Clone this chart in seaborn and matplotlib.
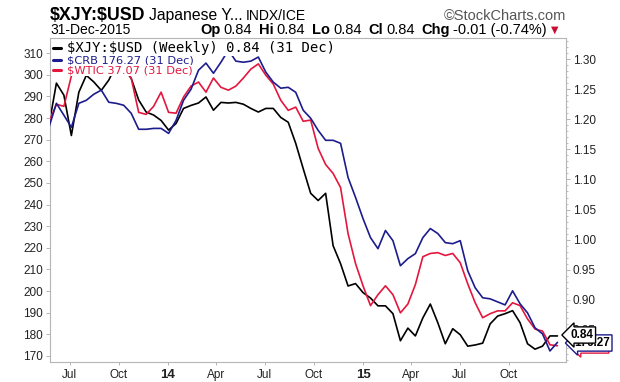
import matplotlib
matplotlib.use('Agg')
import matplotlib.pyplot as plt
from matplotlib.lines import Line2D
from matplotlib.ticker import MultipleLocator, FixedLocator
from matplotlib import font_manager
import seaborn as sns
import pandas as pd

# ---------------- data ----------------
last_date = '2015-12-31'
step = '14D'

xjy = [1.190, 1.260, 1.240, 1.173, 1.245, 1.273, 1.262, 1.248, 1.265, 1.290,
       1.285, 1.268, 1.232, 1.212, 1.207, 1.198, 1.182, 1.193, 1.218, 1.223,
       1.227, 1.237, 1.215, 1.228, 1.227, 1.228, 1.225, 1.218, 1.212, 1.218,
       1.218, 1.203, 1.195, 1.160, 1.118, 1.077, 1.065, 1.077, 0.990, 0.960,
       0.923, 0.927, 0.912, 0.903, 0.890, 0.890, 0.877, 0.832, 0.853, 0.840,
       0.870, 0.893, 0.862, 0.827, 0.852, 0.842, 0.823, 0.825, 0.828, 0.860,
       0.873, 0.877, 0.882, 0.862, 0.827, 0.818, 0.823, 0.840, 0.840]

crb = [275.7, 286.8, 281.3, 275.7, 286.8, 288.2, 291.0, 292.9, 287.3, 286.8,
       285.9, 282.2, 274.8, 274.8, 275.2, 275.2, 272.9, 278.9, 288.2, 293.3,
       302.1, 305.4, 300.7, 305.8, 311.4, 306.3, 305.8, 306.3, 308.2, 301.2,
       296.6, 293.8, 294.2, 291.9, 283.6, 279.9, 274.3, 269.7, 269.7, 268.3,
       252.5, 243.3, 233.5, 224.7, 219.6, 228.0, 223.3, 211.7, 215.0, 217.3,
       224.7, 228.9, 226.6, 222.4, 221.9, 223.3, 209.4, 201.5, 196.9, 196.4,
       195.0, 193.6, 200.1, 194.1, 189.9, 183.0, 180.2, 172.3, 176.27]

wtic = [92.4, 96.8, 96.3, 103.8, 106.5, 108.2, 109.0, 109.0, 107.7, 107.2,
        105.8, 103.3, 94.8, 94.3, 96.3, 99.8, 94.8, 94.6, 98.6, 101.3,
        102.3, 99.8, 103.3, 101.0, 100.3, 101.3, 103.3, 105.5, 106.8, 104.0,
        101.8, 97.8, 95.3, 96.1, 92.6, 92.9, 85.9, 81.9, 79.7, 76.2,
        64.8, 57.4, 51.9, 47.0, 49.7, 51.9, 49.7, 45.2, 47.4, 52.2,
        59.1, 59.9, 60.1, 59.4, 59.9, 57.6, 52.4, 47.7, 44.0, 45.0,
        45.7, 45.7, 47.7, 47.0, 43.7, 41.2, 40.7, 37.3, 37.07]

month_ticks = ['2013-07-01', '2013-10-01', '2014-01-01', '2014-04-01', '2014-07-01',
               '2014-10-01', '2015-01-01', '2015-04-01', '2015-07-01', '2015-10-01']
month_labels = ['Jul', 'Oct', '14', 'Apr', 'Jul', 'Oct', '15', 'Apr', 'Jul', 'Oct']
year_labels = ['14', '15']
crb_ticks = [170, 180, 190, 200, 210, 220, 230, 240, 250, 260, 270, 280, 290, 300, 310]
xjy_ticks = [0.85, 0.90, 0.95, 1.00, 1.05, 1.10, 1.15, 1.20, 1.25, 1.30]

legend_labels = [r'\$XJY:\$USD (Weekly) 0.84 (31 Dec)',
                 r'\$CRB 176.27 (31 Dec)',
                 r'\$WTIC 37.07 (31 Dec)']
box_labels = ['0.84', '176.27', '37.07']

# ---------------- style ----------------
sns.set_theme(style='white')
names = {f.name for f in font_manager.fontManager.ttflist}
NARROW = 'Liberation Sans Narrow' if 'Liberation Sans Narrow' in names else 'Liberation Sans'
plt.rcParams['font.family'] = ['Liberation Sans', 'DejaVu Sans']

BLACK = '#000000'
BLUE = '#1c1c8c'
RED = '#e3173e'
GRID = '#b5b5b5'
TXT = '#222222'

dates = pd.date_range(end=last_date, periods=len(xjy), freq=step)
df = pd.DataFrame({'date': dates, 'xjy': xjy, 'crb': crb, 'wtic': wtic})

W, H = 620, 382
fig = plt.figure(figsize=(W / 100, H / 100), dpi=100)
fig.patch.set_facecolor('white')
L, R, T, B = 50, 566, 38, 362
ax = fig.add_axes([L / W, 1 - B / H, (R - L) / W, (B - T) / H])
axW = ax.twinx()
axC = ax.twinx()

LW = 1.2
sns.lineplot(data=df, x='date', y='xjy', ax=ax, color=BLACK, lw=LW)
sns.lineplot(data=df, x='date', y='wtic', ax=axW, color=RED, lw=LW)
sns.lineplot(data=df, x='date', y='crb', ax=axC, color=BLUE, lw=LW)

ax.set_xlim(pd.Timestamp('2013-05-25'), pd.Timestamp('2016-01-16'))
ax.set_ylim(0.7967, 1.335)
axW.set_ylim(33.05, 113.2)
axC.set_ylim(167.2, 317.0)
for a in (ax, axW, axC):
    a.set_xlabel('')
    a.set_ylabel('')

# right axis (XJY)
ax.yaxis.tick_right()
ax.set_yticks(xjy_ticks)
ax.set_yticklabels([f'{v:.2f}' for v in xjy_ticks])
ax.yaxis.set_minor_locator(MultipleLocator(0.01))
ax.tick_params(axis='y', which='major', right=True, left=False, labelright=True,
               labelleft=False, direction='out', length=3, width=0.7, color=GRID,
               labelsize=8.5, labelcolor=TXT, pad=2)
ax.tick_params(axis='y', which='minor', right=True, left=False, direction='out',
               length=1.5, width=0.6, color=GRID)

# left axis (CRB)
axC.yaxis.tick_left()
axC.set_yticks(crb_ticks)
axC.set_yticklabels([str(v) for v in crb_ticks])
axC.tick_params(axis='y', left=True, right=False, labelleft=True, labelright=False,
                direction='out', length=3, width=0.7, color=GRID, labelsize=8.5,
                labelcolor=TXT, pad=2)
axW.set_yticks([])

# x axis
ax.xaxis.set_major_locator(FixedLocator([matplotlib.dates.date2num(pd.Timestamp(d)) for d in month_ticks]))
ax.set_xticklabels(month_labels)
ax.tick_params(axis='x', bottom=True, direction='out', length=2, width=0.7, color=GRID,
               labelsize=8.5, labelcolor=TXT, pad=3)
for t in ax.get_xticklabels():
    if t.get_text() in year_labels:
        t.set_fontweight('bold')
        t.set_fontsize(9.5)

for s in ax.spines.values():
    s.set_color(GRID)
    s.set_linewidth(0.8)
for a in (axW, axC):
    for s in a.spines.values():
        s.set_visible(False)

# legend
handles = [Line2D([], [], color=c, lw=2.2) for c in (BLACK, BLUE, RED)]
leg = axC.legend(handles, legend_labels, loc='upper left', bbox_to_anchor=(0.0, 1.0),
                 frameon=False, prop={'family': 'DejaVu Sans', 'size': 8.2},
                 handlelength=0.7, handletextpad=0.45, labelspacing=0.02,
                 borderaxespad=0.15, borderpad=0.15)
for t, c in zip(leg.get_texts(), (BLACK, BLUE, RED)):
    t.set_color(c)
    t.set_bbox(dict(facecolor='white', edgecolor='none', pad=0.3))
t0 = leg.get_texts()[0]
t0.set_fontfamily('DejaVu Sans Mono')
t0.set_fontsize(10)


def px(x, y):
    return x / W, 1 - y / H


# value boxes on the right axis
boxes = [(box_labels[2], RED, 592, 345), (box_labels[1], BLUE, 592, 343), (box_labels[0], BLACK, 582, 335)]
for txt, ec, x, y in boxes:
    fig.text(*px(x, y), txt, ha='center', va='center', fontsize=8.5, fontweight='bold',
             family=NARROW, color='black',
             bbox=dict(boxstyle='larrow,pad=0.18', fc='white', ec=ec, lw=1.0))

# header
fig.text(*px(50, 20), r'\$XJY:\$USD', fontsize=12.8, fontweight='bold', family=NARROW,
         color='black', va='baseline', ha='left')
fig.text(*px(149, 20), 'Japanese Y...', fontsize=11.3, family=NARROW, color='black',
         va='baseline', ha='left')
fig.text(*px(246, 20), 'INDX/ICE', fontsize=10, family='Liberation Sans', color='black',
         va='baseline', ha='left')
fig.text(*px(566, 20), '©StockCharts.com', fontsize=10.5, color='#555555',
         va='baseline', ha='right')
fig.text(*px(50, 34), '31-Dec-2015', fontsize=10, color='black', va='baseline', ha='left')

renderer = fig.canvas.get_renderer()
parts = [('Op', 'bold', 3), ('0.84', 'normal', 7), ('Hi', 'bold', 3), ('0.84', 'normal', 7),
         ('Lo', 'bold', 3), ('0.84', 'normal', 7), ('Cl', 'bold', 3), ('0.84', 'normal', 7),
         ('Chg', 'bold', 3), ('-0.01 (-0.74%)', 'normal', 4)]
x = 200
for txt, wgt, gap in parts:
    t = fig.text(*px(x, 34), txt, fontsize=10.5, fontweight=wgt,
                 family=NARROW if wgt == 'bold' else 'Liberation Sans',
                 color='black', va='baseline', ha='left')
    x += t.get_window_extent(renderer=renderer).width + gap
fig.text(*px(x, 33), '▼', fontsize=7, family='DejaVu Sans', color='#c8102e',
         va='baseline', ha='left')

fig.savefig('out.png', dpi=100, facecolor='white')
